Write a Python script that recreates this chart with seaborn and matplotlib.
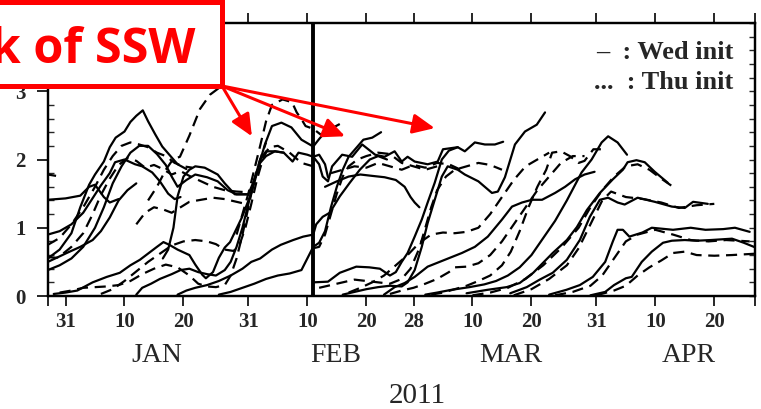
import numpy as np
import pandas as pd
import matplotlib
matplotlib.use("Agg")
import matplotlib.pyplot as plt
import matplotlib.dates as mdates
import matplotlib.transforms as mtransforms
from matplotlib.patches import Rectangle, ConnectionPatch
import seaborn as sns

# ---------------- data (day offset from 2010-12-31, value) ----------------
BASE = pd.Timestamp("2010-12-31")

wed_01 = [(-3,1.41),(0,1.43),(2.5,1.47),(4,1.6),(5,1.63),(6.5,1.45),(7.5,1.37),(9,1.42)]
wed_02 = [(-3,0.55),(-1,0.68),(1,0.92),(2.5,1.3),(4,1.63),(5,1.78),(6.5,1.97),(7.5,2.18),(8.5,2.32),(10,2.41),(11,2.55),(12,2.64),(13.1,2.72),(14,2.56),(15.2,2.37),(16.4,2.19),(18,2.03),(19,1.93),(20.5,1.86)]
wed_03 = [(-3,0.38),(-1,0.45),(1,0.55),(3,0.72),(5,1.0),(6.5,1.3),(8,1.65),(9.5,1.9),(11,2.1),(12.5,2.2),(14,2.2),(15.5,2.08),(17,1.92),(18,1.75),(19,1.6),(20.5,1.7),(22,1.78),(24,1.74),(25.8,1.68),(27.5,1.55),(29,1.49),(31,1.49)]
wed_04 = [(-3,0.9),(-1,0.95),(1,1.05),(3,1.22),(4.5,1.42),(6,1.62),(7.5,1.8),(8.4,1.96),(10,2.0),(11.8,1.93),(13,1.9),(14.7,1.81),(16,1.68),(17.4,1.5),(18.5,1.42),(19.5,1.45)]
wed_05 = [(16.5,0.55),(17.4,0.68),(18.3,1.0),(19,1.46),(20,1.75),(21,1.85),(22,1.9),(23.6,1.88),(25.8,1.78),(27,1.65),(28.7,1.49),(31,1.49),(32,1.7),(33,2.0),(34,2.12),(35.5,2.12),(37,2.1),(38.5,1.97),(39.5,2.1),(41,2.07),(42,2.04),(43,2.07),(44,1.93),(44.5,1.74)]
wed_06 = [(-2,0.03),(0,0.05),(2,0.08),(4.6,0.2),(7,0.28),(9.2,0.34),(11,0.45),(12.6,0.53),(15.5,0.72),(16.6,0.79),(17.6,0.75),(19,0.68),(21,0.6),(22,0.46),(23.2,0.31),(23.8,0.26),(25,0.35),(26,0.56),(27,0.71),(27.9,0.79),(29.9,1.15),(31.6,1.53),(33.3,2.07),(33.8,2.22),(35,2.49),(36.6,2.54),(38.3,2.47),(40,2.29),(42,2.19),(43,2.3),(44,2.4),(45,2.47)]
wed_07 = [(12,0.02),(13,0.12),(14.5,0.18),(16,0.25),(18,0.32),(19.5,0.38),(21,0.4),(22.5,0.35),(24,0.32),(25.5,0.3),(27,0.38),(28,0.5),(29,0.72),(30,1.0),(31,1.35),(32,1.7),(33,1.95),(34,2.05),(35.5,2.12),(37,2.1)]
wed_08 = [(19,0.02),(20.5,0.08),(22,0.12),(24,0.16),(26,0.22),(28,0.3),(30,0.4),(31.5,0.5),(33,0.55),(35,0.68),(36.5,0.75),(38.6,0.82),(40.3,0.87),(42,0.9),(42.5,1.05),(43.6,1.16),(44.8,1.22),(46.5,1.46),(48.2,1.66),(49.9,1.85),(51.6,2.0),(53,2.05),(54.5,2.0)]
wed_09 = [(26,0.02),(28,0.06),(30,0.12),(32,0.18),(34,0.25),(36,0.3),(38,0.33),(40,0.38),(41,0.55),(42,0.72),(43,0.78),(44,0.95),(45,1.3),(46,1.6),(47,1.85),(48,2.04),(49.5,2.19),(50.5,2.29),(52,2.32),(53.5,2.4)]
wed_10 = [(42,0.2),(44.5,0.21),(46.5,0.34),(49.3,0.43),(51.5,0.42),(53.3,0.4),(55,0.3),(56,0.35),(57,0.5),(58,0.63),(59.2,0.87),(60.4,1.12),(61.4,1.37),(62.6,1.66),(63.8,2.0),(65,2.13),(66.5,2.18),(67.7,2.12),(69.4,2.25),(71.1,2.22),(72.8,2.22),(74.2,2.26)]
wed_11 = [(47,0.02),(49,0.06),(51,0.1),(53,0.13),(55,0.15),(57,0.14),(58,0.2),(59.2,0.38),(60.4,0.72),(61.4,1.07),(62.6,1.41),(63.8,1.75),(64.8,1.9),(66.5,1.85),(67.7,1.78),(70,1.68),(72.3,1.51),(73.3,1.53),(74.5,1.74),(76.2,2.22),(77.9,2.41),(79.9,2.51),(81.3,2.69)]
wed_12 = [(42,2.04),(43,1.93),(43.6,1.75),(44.5,1.68),(45.2,1.9),(46.9,2.07),(48.6,2.04),(50.3,2.22),(52.5,2.07),(54.1,2.04),(55.8,2.12),(57,1.97),(58,2.04),(59.2,1.97),(61.4,1.93),(63.1,1.97),(64,2.15),(66.5,2.18)]
wed_13 = [(44,1.6),(46,1.68),(48,1.75),(50,1.78),(52,1.76),(54.1,1.74),(56,1.7),(57.5,1.6),(58.5,1.45),(59.2,1.37),(60,1.3)]
wed_14 = [(54,0.02),(55.8,0.13),(57.5,0.19),(59.2,0.28),(61.4,0.43),(64.3,0.53),(67.2,0.63),(69.4,0.72),(71.6,0.87),(74,1.12),(75.7,1.31),(77.4,1.37),(79.1,1.41),(80.8,1.41),(83,1.51),(84.7,1.6),(86.4,1.71),(88,1.78),(89.7,1.82)]
wed_15 = [(61,0.02),(63,0.05),(65.4,0.09),(68.5,0.13),(71,0.17),(73,0.22),(75,0.3),(77,0.42),(79,0.6),(81,0.85),(83,1.1),(85,1.4),(87.5,1.81),(89.2,2.0),(90.9,2.25),(92,2.34),(93.6,2.25),(95.2,2.07)]
wed_16 = [(68,0.04),(71.5,0.09),(74.8,0.13),(77,0.19),(79.3,0.34),(82.6,0.63),(85,0.82),(86.7,1.01),(88.4,1.26),(90.6,1.51),(92.8,1.71),(94.5,1.85),(95.3,1.96),(96.8,1.99),(98.2,1.96),(99.9,1.82),(102.1,1.66)]
wed_17 = [(75.4,0.04),(78.2,0.13),(80.4,0.24),(82.6,0.34),(85,0.53),(87.2,0.82),(88.9,1.16),(90.6,1.41),(92,1.44),(93.6,1.37),(94.8,1.34),(97,1.44),(99.9,1.38),(102.8,1.31),(105,1.29),(106.4,1.38),(108.9,1.35)]
wed_18 = [(82,0.02),(84.9,0.09),(87.2,0.16),(89.4,0.28),(91.5,0.5),(92.8,0.8),(93.6,0.97),(94.5,0.97),(95.6,0.87),(97.8,0.93),(99.4,1.0),(103,0.97),(106,1.0),(108.5,0.97),(111.5,0.98),(113.5,1.0),(116,0.94)]
wed_19 = [(89,0.01),(91.5,0.06),(93,0.16),(95,0.26),(96,0.28),(97.7,0.5),(99.4,0.65),(101.3,0.78),(102.8,0.81),(105,0.82),(107,0.81),(109.4,0.82),(113,0.84),(115,0.78),(117,0.71)]
wed_20 = [(-3,0.57),(-1.5,0.56),(0.2,0.63),(2.5,0.72),(4.6,0.82),(6,0.95),(7.5,1.15),(9,1.4),(10.5,1.55),(12,1.65)]

thu_01 = [(-3,1.78),(-1.6,1.76)]
thu_02 = [(-3,0.75),(-1,0.85),(1,1.05),(3,1.3),(5,1.6),(6.5,1.85),(8,2.05),(9.5,2.2),(11,2.25),(12.5,2.22),(14,2.18),(15.5,2.1),(17,2.05),(18.5,1.95),(20,1.9),(21.5,1.88)]
thu_03 = [(-3,0.5),(-1,0.58),(1,0.72),(3,0.92),(4.5,1.18),(6,1.48),(7.5,1.72),(9,1.92),(10.5,2.02),(12,1.98),(13.5,1.88),(15,1.92),(16.5,1.86),(18,1.78),(19.5,1.83),(21,1.76),(23,1.68),(25,1.6),(27,1.55),(29,1.53),(31,1.52)]
thu_04 = [(14,1.4),(15.5,1.6),(17,1.85),(18.2,2.0),(19.4,2.04),(21,2.35),(22.8,2.74),(24.5,2.95),(26.2,3.06),(27,3.1)]
thu_05 = [(29,0.9),(30,1.2),(31,1.5),(32,1.85),(33,2.2),(34,2.56),(35,2.8),(36.8,2.88),(38.4,2.84),(39.2,2.69),(40,2.59),(40.7,2.49),(42,2.45),(43.5,2.35),(45,2.45),(46.5,2.52)]
thu_06 = [(-1,0.05),(1,0.08),(3,0.12),(5,0.13),(7,0.14),(9,0.16),(11,0.22),(13,0.32),(15,0.4),(17,0.46),(19,0.42),(21,0.3),(22.5,0.18),(24,0.14),(25.5,0.13),(27,0.16),(28,0.3),(29,0.55),(30,0.9),(31,1.3),(32,1.7),(33,2.0),(34,2.25)]
thu_07 = [(6,0.03),(8,0.1),(10,0.22),(12,0.36),(14,0.5),(16,0.62),(18,0.74),(20,0.8),(22,0.82),(24,0.8),(25.5,0.76),(27,0.68),(28.5,0.66),(29.5,0.75),(30.5,1.0),(31.5,1.35),(32.5,1.72),(33.5,2.02),(34.5,2.18),(36,2.2),(38,2.1),(40,1.95),(42,1.9)]
thu_08 = [(12,1.05),(13.5,1.22),(15,1.3),(16.5,1.27),(18,1.22),(19.5,1.3),(21,1.38),(23,1.41),(25,1.44),(27,1.42),(29,1.38),(31,1.34)]
thu_09 = [(42,0.7),(43,0.72),(44,0.9),(45,1.2),(46,1.5),(47,1.75),(48,1.9),(49.5,2.0),(51,2.05),(53,2.1),(55,2.08),(57,1.95),(59,1.9),(61,1.85),(63,1.9)]
thu_10 = [(43,0.12),(45,0.16),(47,0.2),(49,0.24),(51,0.22),(53,0.2),(55,0.18),(57,0.25),(58.5,0.4),(60,0.7),(61,1.0),(62,1.3),(63,1.55),(64.5,1.75),(66,1.85),(68,1.9),(70,1.95),(72,1.92),(74,1.85)]
thu_11 = [(45,1.8),(47,1.85),(49,1.9),(51,1.88),(53,1.95),(55,1.9),(57,1.85),(59,1.92),(61,1.88),(63,1.95),(65,1.93),(67,1.85)]
thu_12 = [(48,0.05),(50,0.12),(52,0.2),(54,0.3),(56,0.45),(58,0.6),(60,0.78),(62,0.9),(64,0.93),(66,0.92),(68,0.94),(70,1.0),(72,1.2),(74,1.45),(76,1.7),(78,1.9),(80,2.0),(82,2.1)]
thu_13 = [(55,0.03),(57,0.08),(59,0.12),(61,0.18),(63,0.25),(65,0.35),(66,0.42),(68,0.43),(70,0.48),(72,0.6),(74,0.8),(76,1.05),(78,1.3),(80,1.55),(82,1.75),(84,1.95),(86,2.05),(88,2.05)]
thu_14 = [(62,0.02),(64,0.05),(66,0.1),(68,0.15),(70,0.22),(72,0.3),(74,0.45),(75.5,0.65),(77,0.95),(78.5,1.3),(80,1.6),(81.5,1.85),(82.5,2.1),(84,2.12),(85.5,2.05),(87,1.95),(88,1.98),(89.5,2.15),(91,2.15)]
thu_15 = [(69,0.01),(72,0.05),(75,0.12),(78,0.25),(81,0.45),(84,0.7),(87,1.0),(89,1.3),(91,1.55),(93,1.75),(95,1.9),(97,1.93),(99,1.85),(101,1.72),(103,1.6)]
thu_16 = [(76,0.01),(79,0.1),(82,0.25),(85,0.45),(87,0.7),(89,1.05),(91,1.4),(92.5,1.53),(95,1.45),(98,1.42),(101,1.37),(104,1.29),(107,1.33),(110,1.35)]
thu_17 = [(83,0.01),(86,0.06),(89,0.15),(91,0.3),(93,0.55),(95,0.8),(97,0.9),(100,0.97),(103,0.9),(106,0.82),(109,0.8),(112,0.82),(116,0.8)]
thu_18 = [(90,0.01),(93,0.08),(95,0.15),(97,0.3),(99,0.42),(101,0.52),(103,0.63),(105,0.65),(107,0.6),(110,0.59),(113,0.6),(117,0.62)]

wed_lines = [wed_01, wed_02, wed_03, wed_04, wed_05, wed_06, wed_07, wed_08, wed_09, wed_10,
             wed_11, wed_12, wed_13, wed_14, wed_15, wed_16, wed_17, wed_18, wed_19, wed_20]
thu_lines = [thu_01, thu_02, thu_03, thu_04, thu_05, thu_06, thu_07, thu_08, thu_09,
             thu_10, thu_11, thu_12, thu_13, thu_14, thu_15, thu_16, thu_17, thu_18]

tick_dates = ["2010-12-31", "2011-01-10", "2011-01-20", "2011-01-31", "2011-02-10", "2011-02-20",
              "2011-02-28", "2011-03-10", "2011-03-20", "2011-03-31", "2011-04-10", "2011-04-20"]
tick_labels = ["31", "10", "20", "31", "10", "20", "28", "10", "20", "31", "10", "20"]
month_labels = ["JAN", "FEB", "MAR", "APR"]
month_dates = ["2011-01-15 12:00", "2011-02-14 20:00", "2011-03-16 12:00", "2011-04-15 16:00"]
year_label = "2011"
year_date = "2011-02-28 16:00"
ssw_date = "2011-02-11"
arrow_days = [31.6, 47.4, 62.6]
arrow_vals = [2.34, 2.34, 2.46]
x_start_day, x_end_day = -2.97, 116.9

# ---------------- long-form table ----------------
rows = []
for kind, lines in (("Wed", wed_lines), ("Thu", thu_lines)):
    for i, line in enumerate(lines):
        for d, v in line:
            rows.append({"date": BASE + pd.Timedelta(days=d), "value": v,
                         "lid": f"{kind}{i}", "init": kind})
df = pd.DataFrame(rows)

# ---------------- figure ----------------
sns.set_style("white")
plt.rcParams["font.family"] = ["Liberation Serif", "DejaVu Serif"]
W, H = 761, 409
fig = plt.figure(figsize=(W / 100, H / 100), dpi=100)
ax = fig.add_axes([48 / W, 113 / H, 707 / W, 273 / H])

sns.lineplot(data=df, x="date", y="value", units="lid", estimator=None, style="init",
             dashes={"Wed": "", "Thu": (5, 3)}, color="black", lw=1.6,
             legend=False, sort=False, ax=ax)

ax.axvline(pd.Timestamp(ssw_date), color="black", lw=2.8, zorder=5)

x0 = BASE + pd.Timedelta(days=x_start_day)
x1 = BASE + pd.Timedelta(days=x_end_day)
ax.set_xlim(x0, x1)
ax.set_ylim(0, 4)
ax.set_xlabel("")
ax.set_ylabel("")

xt = [mdates.date2num(x0)] + [mdates.date2num(pd.Timestamp(t)) for t in tick_dates] + [mdates.date2num(x1)]
ax.set_xticks(xt)
ax.set_xticklabels([""] + tick_labels + [""])
ax.tick_params(axis="x", which="major", direction="out", length=7.5, width=1.4,
               top=True, bottom=True, labeltop=False, labelsize=15, pad=4)

ax.set_yticks([0, 1, 2, 3])
ax.set_yticklabels(["0", "1", "2", "3"])
ax.yaxis.set_minor_locator(matplotlib.ticker.MultipleLocator(0.2))
ax.tick_params(axis="y", which="major", direction="out", length=8, width=1.4,
               left=True, right=False, labelsize=15, pad=8)
ax.tick_params(axis="y", which="minor", direction="in", length=4.5, width=1.0,
               left=True, right=False)
for lab in ax.get_xticklabels() + ax.get_yticklabels():
    lab.set_fontweight("bold")

ax2 = ax.twinx()
ax2.set_ylim(0, 4)
ax2.set_yticks(np.arange(0, 4.01, 0.2))
ax2.tick_params(axis="y", direction="in", length=4.5, width=1.0, labelright=False, right=True)
ax2.set_ylabel("")

for a in (ax, ax2):
    for s in a.spines.values():
        s.set_linewidth(1.6)
        s.set_color("black")

blend = mtransforms.blended_transform_factory(ax.transData, ax.transAxes)
for lab, dt in zip(month_labels, month_dates):
    ax.text(mdates.date2num(pd.Timestamp(dt)), -0.218, lab, transform=blend,
            ha="center", va="center", fontsize=20)
ax.text(mdates.date2num(pd.Timestamp(year_date)), -0.365, year_label, transform=blend,
        ha="center", va="center", fontsize=21)

# legend text
fig.text(733 / W, 1 - 59 / H, "\u2013  : Wed init", ha="right", va="baseline",
         fontsize=19, fontweight="bold")
fig.text(733 / W, 1 - 89 / H, "...  : Thu init", ha="right", va="baseline",
         fontsize=19, fontweight="bold")

# red annotation box
box = Rectangle((-0.05, 1 - 86 / H), 222 / W + 0.05, 86 / H - 1.5 / H,
                transform=fig.transFigure, facecolor="white", edgecolor="red",
                lw=3.6, zorder=20, clip_on=False)
fig.add_artist(box)
fig.text(195 / W, 1 - 63 / H, "Peak of SSW", ha="right", va="baseline",
         fontsize=35, fontweight="bold", color="red", family=["Open Sans", "DejaVu Sans"],
         zorder=21)

corner = (222 / W, 1 - 86 / H)
for d, v in zip(arrow_days, arrow_vals):
    xy = (mdates.date2num(BASE + pd.Timedelta(days=d)), v)
    cp = ConnectionPatch(xyA=corner, coordsA=fig.transFigure, xyB=xy, coordsB=ax.transData,
                         arrowstyle="-|>,head_length=1.1,head_width=0.5", mutation_scale=12,
                         color="red", lw=2.2, shrinkA=0, shrinkB=0, zorder=22)
    fig.add_artist(cp)

fig.savefig("out.png", dpi=100)
